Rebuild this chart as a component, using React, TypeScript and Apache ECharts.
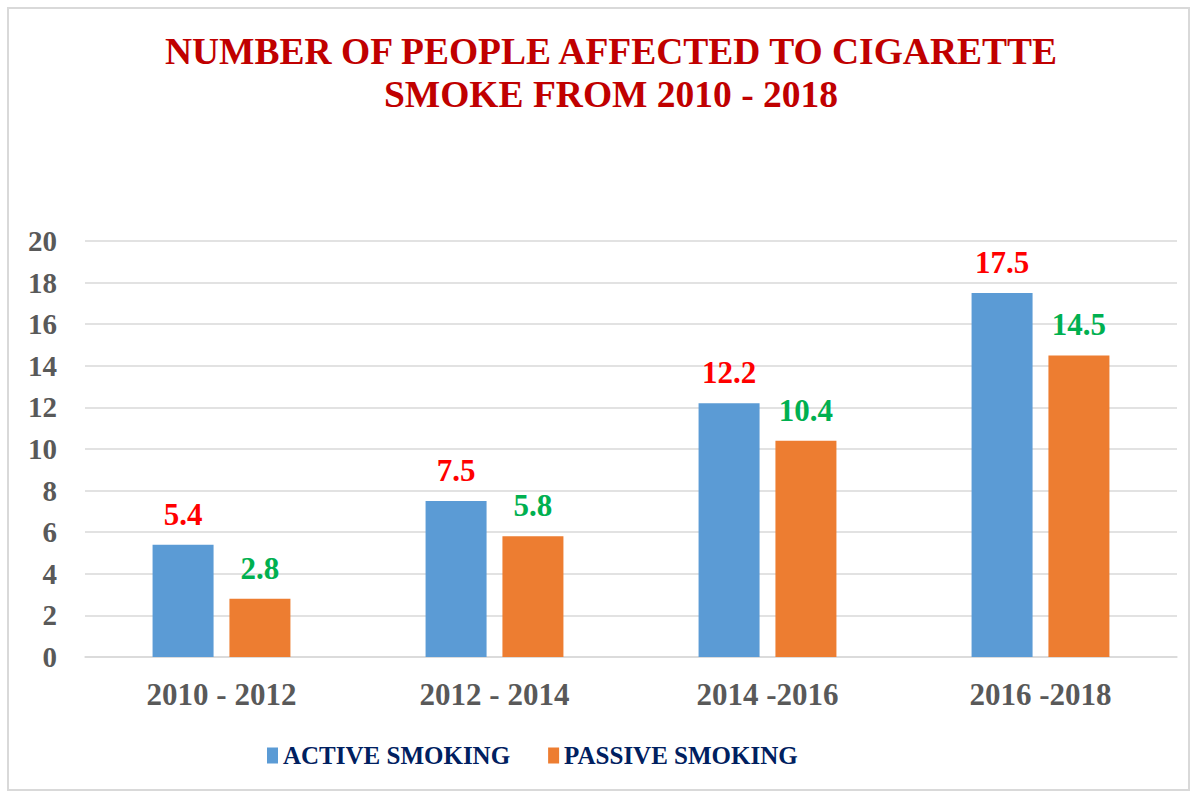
import React, { useEffect, useRef } from "react";
import * as echarts from "echarts";

const categories = ["2010 - 2012", "2012 - 2014", "2014 -2016", "2016 -2018"];
const activeSmoking = [5.4, 7.5, 12.2, 17.5];
const passiveSmoking = [2.8, 5.8, 10.4, 14.5];
const seriesNames = ["ACTIVE SMOKING", "PASSIVE SMOKING"];
const titleText = "NUMBER OF PEOPLE AFFECTED TO CIGARETTE\nSMOKE FROM 2010 - 2018";

const FONT = "'Liberation Serif', 'Times New Roman', serif";

export default function App() {
  const ref = useRef<HTMLDivElement>(null);
  useEffect(() => {
    if (!ref.current) return;
    const chart = echarts.init(ref.current, undefined, { renderer: "svg" });
    chart.setOption({
      animation: false,
      backgroundColor: "transparent",
      title: {
        text: titleText,
        left: 606,
        top: 25,
        textAlign: "center",
        textStyle: {
          fontFamily: FONT,
          fontWeight: "bold",
          fontSize: 37.5,
          lineHeight: 43,
          color: "#c00000",
        },
      },
      legend: {
        left: 262,
        top: 738,
        itemWidth: 11,
        itemHeight: 16,
        itemGap: 38,
        icon: "rect",
        textStyle: {
          fontFamily: FONT,
          fontWeight: "bold",
          fontSize: 25,
          color: "#002060",
        },
        data: seriesNames,
      },
      grid: { left: 85, right: 20, top: 241, bottom: 135, containLabel: false },
      xAxis: {
        type: "category",
        data: categories,
        axisTick: { show: false },
        axisLine: { lineStyle: { color: "#d9d9d9", width: 1.5 } },
        axisLabel: {
          margin: 22,
          fontFamily: FONT,
          fontWeight: "bold",
          fontSize: 31,
          color: "#595959",
        },
      },
      yAxis: {
        type: "value",
        min: 0,
        max: 20,
        interval: 2,
        axisLine: { show: false },
        axisTick: { show: false },
        splitLine: { lineStyle: { color: "#d9d9d9", width: 1.5 } },
        axisLabel: {
          margin: 28,
          fontFamily: FONT,
          fontWeight: "bold",
          fontSize: 29,
          color: "#595959",
        },
      },
      series: [
        {
          name: seriesNames[0],
          type: "bar",
          data: activeSmoking,
          barWidth: 61,
          barGap: "26%",
          itemStyle: { color: "#5b9bd5" },
          label: {
            show: true,
            position: "top",
            distance: 15,
            fontFamily: FONT,
            fontWeight: "bold",
            fontSize: 31,
            color: "#ff0000",
          },
        },
        {
          name: seriesNames[1],
          type: "bar",
          data: passiveSmoking,
          barWidth: 61,
          itemStyle: { color: "#ed7d31" },
          label: {
            show: true,
            position: "top",
            distance: 15,
            fontFamily: FONT,
            fontWeight: "bold",
            fontSize: 31,
            color: "#00b050",
          },
        },
      ],
    });
    return () => chart.dispose();
  }, []);

  return (
    <div style={{ position: "fixed", left: 0, top: 0, width: 1197, height: 792, background: "#fff" }}>
      <div
        style={{
          position: "absolute",
          left: 7,
          top: 7,
          width: 1183,
          height: 784,
          border: "2px solid #d9d9d9",
          boxSizing: "border-box",
        }}
      />
      <div ref={ref} style={{ position: "absolute", left: 0, top: 0, width: 1197, height: 792 }} />
    </div>
  );
}
